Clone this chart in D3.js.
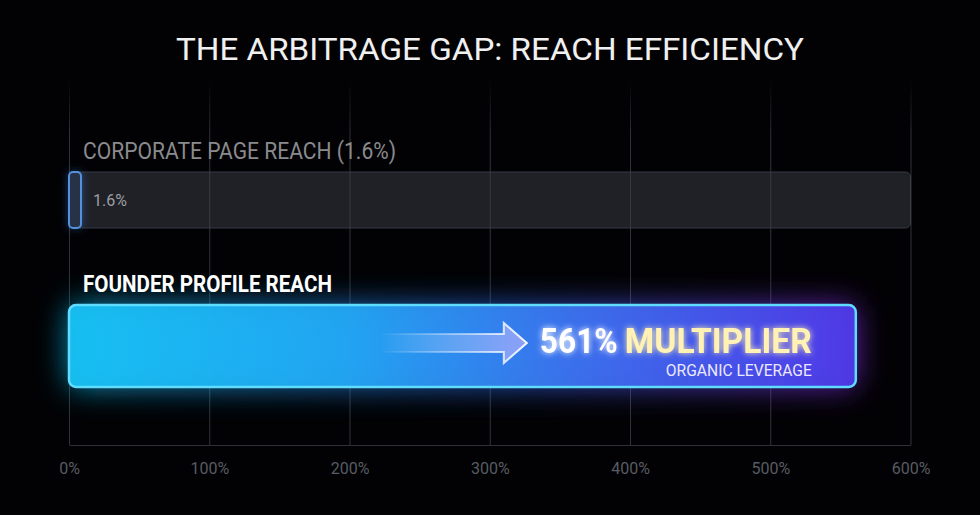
<!DOCTYPE html>
<html>
<head>
<meta charset="utf-8">
<script src="https://cdn.jsdelivr.net/npm/d3@7"></script>
<style>
  html, body { margin: 0; padding: 0; background: #020204; }
  svg { display: block; font-family: Roboto, "Noto Sans", sans-serif; }
</style>
</head>
<body>
<svg id="canvas"></svg>
<script>
// chart data
let title = "THE ARBITRAGE GAP: REACH EFFICIENCY"
let categories = ["CORPORATE PAGE REACH (1.6%)", "FOUNDER PROFILE REACH"]
let values = [1.6, 561]
let valueLabels = ["1.6%", "561%"]
let tickValues = [0, 100, 200, 300, 400, 500, 600]
let calloutWord = "MULTIPLIER"
let calloutSub = "ORGANIC LEVERAGE"

let width = 980
let height = 515

let svg = d3.select("#canvas")
svg.attr("width", width)
svg.attr("height", height)

let xScale = d3.scaleLinear().domain([0, 600]).range([69, 910.5])
let yScale = d3.scaleBand().domain(categories).range([172, 438])
let rowHeights = [56, 82]
let baseY = 445
let gridTop = 80

let defs = svg.append("defs")

let barGrad = defs.append("linearGradient").attr("id", "barGrad")
    .attr("x1", "0%").attr("x2", "100%")
barGrad.append("stop").attr("offset", "0%").attr("stop-color", "#17c3f6")
barGrad.append("stop").attr("offset", "35%").attr("stop-color", "#22a8f5")
barGrad.append("stop").attr("offset", "62%").attr("stop-color", "#3a76f0")
barGrad.append("stop").attr("offset", "100%").attr("stop-color", "#4f3aea")

let glowGrad = defs.append("linearGradient").attr("id", "glowGrad")
    .attr("x1", "0%").attr("x2", "100%")
glowGrad.append("stop").attr("offset", "0%").attr("stop-color", "#10c8ff")
glowGrad.append("stop").attr("offset", "55%").attr("stop-color", "#2b6cf0")
glowGrad.append("stop").attr("offset", "100%").attr("stop-color", "#8a2cf0")

let arrowGrad = defs.append("linearGradient").attr("id", "arrowGrad")
    .attr("x1", "0%").attr("x2", "100%")
arrowGrad.append("stop").attr("offset", "0%").attr("stop-color", "#ffffff").attr("stop-opacity", 0)
arrowGrad.append("stop").attr("offset", "70%").attr("stop-color", "#d8d0ff").attr("stop-opacity", 0.4)
arrowGrad.append("stop").attr("offset", "100%").attr("stop-color", "#c7b8ff").attr("stop-opacity", 0.6)

let arrowStroke = defs.append("linearGradient").attr("id", "arrowStroke")
    .attr("x1", "0%").attr("x2", "100%")
arrowStroke.append("stop").attr("offset", "0%").attr("stop-color", "#ffffff").attr("stop-opacity", 0)
arrowStroke.append("stop").attr("offset", "60%").attr("stop-color", "#ffffff").attr("stop-opacity", 0.5)
arrowStroke.append("stop").attr("offset", "100%").attr("stop-color", "#ffffff").attr("stop-opacity", 0.95)

// grid lines live inside a group moved to baseY, so the gradient runs in local units
let gridGrad = defs.append("linearGradient").attr("id", "gridGrad")
    .attr("gradientUnits", "userSpaceOnUse")
    .attr("x1", 0).attr("x2", 0).attr("y1", gridTop - baseY).attr("y2", gridTop - baseY + 55)
gridGrad.append("stop").attr("offset", "0%").attr("stop-color", "#3c3f46").attr("stop-opacity", 0)
gridGrad.append("stop").attr("offset", "100%").attr("stop-color", "#3c3f46").attr("stop-opacity", 1)

let blurBig = defs.append("filter").attr("id", "blurBig")
    .attr("x", "-20%").attr("y", "-80%").attr("width", "140%").attr("height", "260%")
blurBig.append("feGaussianBlur").attr("stdDeviation", 15)

let blurSmall = defs.append("filter").attr("id", "blurSmall")
    .attr("x", "-200%").attr("y", "-50%").attr("width", "500%").attr("height", "200%")
blurSmall.append("feGaussianBlur").attr("stdDeviation", 5)

let textGlow = defs.append("filter").attr("id", "textGlow")
    .attr("x", "-10%").attr("y", "-40%").attr("width", "120%").attr("height", "180%")
textGlow.append("feGaussianBlur").attr("in", "SourceGraphic").attr("stdDeviation", 3).attr("result", "b")
let tgm = textGlow.append("feMerge")
tgm.append("feMergeNode").attr("in", "b")
tgm.append("feMergeNode").attr("in", "SourceGraphic")

// background
svg.append("rect").attr("width", width).attr("height", height).attr("fill", "#020204")

// title
svg.append("text")
    .attr("x", width / 2).attr("y", 60)
    .attr("text-anchor", "middle")
    .attr("font-size", 31)
    .attr("fill", "#f0f0f0")
    .attr("textLength", 628).attr("lengthAdjust", "spacingAndGlyphs")
    .text(title)

// track behind the corporate row
svg.append("rect")
    .attr("x", xScale(0)).attr("y", yScale(categories[0]))
    .attr("width", xScale(600) - xScale(0)).attr("height", rowHeights[0])
    .attr("rx", 5)
    .attr("fill", "#1f2127").attr("stroke", "#363b46").attr("stroke-width", 1)

// grid lines (over the track, under the bars)
let grid = d3.axisBottom(xScale)
    .tickValues(tickValues)
    .tickSize(-(baseY - gridTop))
    .tickFormat("")
svg.append("g")
    .attr("transform", "translate(0," + baseY + ")")
    .call(grid)
    .call(g => g.select(".domain").remove())
    .selectAll("line")
    .attr("stroke", "url(#gridGrad)")
    .attr("stroke-opacity", 0.8)

// founder glow
let fx = xScale(0), fy = yScale(categories[1]), fw = xScale(values[1]) - xScale(0)
svg.append("rect")
    .attr("x", fx).attr("y", fy)
    .attr("width", fw).attr("height", rowHeights[1])
    .attr("rx", 8)
    .attr("fill", "url(#glowGrad)")
    .attr("opacity", 0.75)
    .attr("filter", "url(#blurBig)")

// corporate glow
let cw = Math.max(xScale(values[0]) - xScale(0), 12)
svg.append("rect")
    .attr("x", xScale(0)).attr("y", yScale(categories[0]))
    .attr("width", cw).attr("height", rowHeights[0])
    .attr("rx", 4)
    .attr("fill", "#2f7ff0").attr("opacity", 0.55)
    .attr("filter", "url(#blurSmall)")

// bars
svg.selectAll(".bar")
    .data(values)
    .enter()
    .append("rect")
    .attr("class", "bar")
    .attr("x", xScale(0))
    .attr("y", (d, i) => yScale(categories[i]))
    .attr("width", (d, i) => i == 0 ? cw : xScale(d) - xScale(0))
    .attr("height", (d, i) => rowHeights[i])
    .attr("rx", (d, i) => i == 0 ? 4 : 7)
    .attr("fill", (d, i) => i == 0 ? "#283246" : "url(#barGrad)")
    .attr("fill-opacity", (d, i) => i == 0 ? 1 : 0.94)
    .attr("stroke", (d, i) => i == 0 ? "#5590dc" : "#5fdcff")
    .attr("stroke-width", (d, i) => i == 0 ? 2 : 2.5)

// x axis
let xAxis = d3.axisBottom(xScale)
    .tickValues(tickValues)
    .tickSize(0)
    .tickPadding(18)
    .tickFormat(d => d + "%")
svg.append("g")
    .attr("transform", "translate(0," + baseY + ")")
    .call(xAxis)
    .call(g => g.select(".domain").attr("stroke", "#2e3138"))
    .selectAll("text")
    .attr("font-family", "Roboto, sans-serif")
    .attr("font-size", 16)
    .attr("fill", "#585c63")

// row labels
svg.append("text")
    .attr("x", 83).attr("y", yScale(categories[0]) - 13)
    .attr("font-size", 23)
    .attr("fill", "#8a8b8e")
    .attr("textLength", 313).attr("lengthAdjust", "spacingAndGlyphs")
    .text(categories[0])

svg.append("text")
    .attr("x", 83).attr("y", yScale(categories[1]) - 13)
    .attr("font-size", 23)
    .attr("font-weight", "bold")
    .attr("fill", "#ffffff")
    .attr("textLength", 249).attr("lengthAdjust", "spacingAndGlyphs")
    .text(categories[1])

// corporate value label
svg.append("text")
    .attr("x", xScale(0) + 24).attr("y", yScale(categories[0]) + rowHeights[0] / 2 + 6)
    .attr("font-size", 16)
    .attr("fill", "#9c9ea3")
    .text(valueLabels[0])

// arrow inside founder bar
let endX = xScale(values[1])
let ay = fy + 38
let tip = endX - 329
let arrowPath = [
    [tip - 147, ay - 9], [tip - 23, ay - 9], [tip - 23, ay - 20], [tip, ay],
    [tip - 23, ay + 20], [tip - 23, ay + 9], [tip - 147, ay + 9]
]
svg.append("path")
    .attr("d", d3.line()(arrowPath) + "Z")
    .attr("fill", "url(#arrowGrad)")
    .attr("stroke", "url(#arrowStroke)")
    .attr("stroke-width", 2)
    .attr("stroke-linejoin", "miter")

// callout text
let callout = svg.append("g").attr("filter", "url(#textGlow)")
callout.append("text")
    .attr("x", endX - 316).attr("y", fy + 48)
    .attr("font-size", 35).attr("font-weight", "bold")
    .attr("fill", "#ffffff")
    .attr("textLength", 78).attr("lengthAdjust", "spacingAndGlyphs")
    .text(valueLabels[1])
callout.append("text")
    .attr("x", endX - 231).attr("y", fy + 48)
    .attr("font-size", 35).attr("font-weight", "bold")
    .attr("fill", "#fff2b4")
    .attr("textLength", 187).attr("lengthAdjust", "spacingAndGlyphs")
    .text(calloutWord)

svg.append("text")
    .attr("x", endX - 44).attr("y", fy + 71)
    .attr("text-anchor", "end")
    .attr("font-size", 17)
    .attr("fill", "#ece8ff")
    .attr("textLength", 146).attr("lengthAdjust", "spacingAndGlyphs")
    .text(calloutSub)
</script>
</body>
</html>
